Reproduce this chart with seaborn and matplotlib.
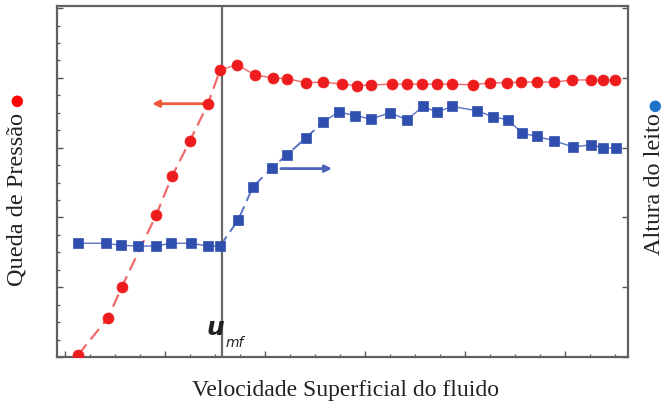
import matplotlib
matplotlib.use("Agg")
import matplotlib.pyplot as plt
import numpy as np
import pandas as pd
import seaborn as sns

# ---- data (arbitrary units) ----
vel_dp = [0.13, 0.43, 0.57, 0.91, 1.07, 1.25, 1.43, 1.55, 1.72, 1.90, 2.08, 2.22,
          2.41, 2.58, 2.77, 2.92, 3.06, 3.27, 3.42, 3.57, 3.72, 3.87, 4.08, 4.25,
          4.42, 4.56, 4.72, 4.89, 5.07, 5.26, 5.38, 5.50]
dp = [0.03, 0.56, 1.01, 2.03, 2.59, 3.10, 3.63, 4.11, 4.19, 4.04, 4.00, 3.99,
      3.93, 3.94, 3.91, 3.89, 3.90, 3.91, 3.91, 3.91, 3.91, 3.91, 3.90, 3.93,
      3.93, 3.94, 3.94, 3.94, 3.97, 3.97, 3.97, 3.97]
vel_h = [0.13, 0.41, 0.56, 0.73, 0.91, 1.06, 1.26, 1.43, 1.55, 1.73, 1.88, 2.07,
         2.22, 2.41, 2.58, 2.74, 2.90, 3.06, 3.25, 3.42, 3.58, 3.72, 3.87, 4.12,
         4.28, 4.43, 4.57, 4.72, 4.89, 5.08, 5.26, 5.38, 5.51]
h = [1.63, 1.63, 1.60, 1.59, 1.59, 1.63, 1.63, 1.59, 1.59, 1.96, 2.44, 2.71,
     2.90, 3.14, 3.37, 3.51, 3.46, 3.41, 3.50, 3.40, 3.59, 3.51, 3.59, 3.53,
     3.44, 3.40, 3.21, 3.16, 3.10, 3.01, 3.04, 3.00, 2.99]
umf = 1.57

xlabel = "Velocidade Superficial do fluido"
ylabel_left = "Queda de Pressão"
ylabel_right = "Altura do leito"

RED = "#ee1c1c"
RED_LINE = "#f06a6a"
BLUE = "#2f4fae"
BLUE_LINE = "#5a72c4"

sns.set_theme(style="white")
plt.rcParams['font.family'] = ['Liberation Serif', 'DejaVu Sans']

fig = plt.figure(figsize=(6.7, 4.1), dpi=100)
ax = fig.add_axes([57/670, 1-358/410, (628-57)/670, (358-7)/410])

df_dp = pd.DataFrame({"v": vel_dp, "p": dp})
df_h = pd.DataFrame({"v": vel_h, "h": h})

# pressure drop: dashed rise, thin solid plateau
sns.lineplot(data=df_dp.iloc[0:8], x="v", y="p", sort=False, estimator=None,
             ax=ax, color=RED_LINE, lw=1.6, linestyle=(0, (6, 3)))
sns.lineplot(data=df_dp.iloc[7:], x="v", y="p", sort=False, estimator=None,
             ax=ax, color=RED_LINE, lw=1.0)

# bed height: solid flat, dashed rise, solid after
sns.lineplot(data=df_h.iloc[0:9], x="v", y="h", sort=False, estimator=None,
             ax=ax, color=BLUE_LINE, lw=1.0)
sns.lineplot(data=df_h.iloc[8:15], x="v", y="h", sort=False, estimator=None,
             ax=ax, color=BLUE_LINE, lw=1.4, linestyle=(0, (6, 3)))
sns.lineplot(data=df_h.iloc[14:], x="v", y="h", sort=False, estimator=None,
             ax=ax, color=BLUE_LINE, lw=1.0)

sns.scatterplot(data=df_dp, x="v", y="p", ax=ax, color=RED, s=62,
                marker="o", edgecolor=RED, linewidth=0.5, zorder=5)
sns.scatterplot(data=df_h, x="v", y="h", ax=ax, color=BLUE, s=42,
                marker="s", edgecolor=BLUE, linewidth=0.5, zorder=5)

# u_mf line
ax.axvline(umf, color="#6a6a6a", lw=1.6, zorder=3)

# arrows
ax.annotate("", xy=(0.87, 3.63), xytext=(1.40, 3.63),
            arrowprops=dict(arrowstyle="-|>", color="#f05a3c", lw=2.0,
                            mutation_scale=10, shrinkA=0, shrinkB=0))
ax.annotate("", xy=(2.67, 2.70), xytext=(2.16, 2.70),
            arrowprops=dict(arrowstyle="-|>", color="#4a64b8", lw=2.0,
                            mutation_scale=10, shrinkA=0, shrinkB=0))

# u_mf label
ax.text(1.50, 0.43, "u", fontsize=18, fontweight="bold", fontstyle="italic",
        family=["DejaVu Sans"], color="#222222", ha="center", va="center")
ax.text(1.70, 0.22, "mf", fontsize=10, fontstyle="italic",
        family=["DejaVu Sans"], color="#222222", ha="center", va="center")

ax.set_xlim(-0.08, 5.63)
ax.set_ylim(0, 5.03)
ax.set_xlabel("")
ax.set_ylabel("")

ax.set_xticks(np.arange(0, 6, 1))
ax.set_xticks(np.arange(0, 5.6, 0.25), minor=True)
ax.set_yticks(np.arange(0, 6, 1))
ax.set_yticks(np.arange(0, 5.01, 0.25), minor=True)
ax.tick_params(axis="both", which="both", direction="in", labelbottom=False,
               labelleft=False, colors="#555555", bottom=True, left=True)
ax.tick_params(which="major", length=4, width=1.0)
ax.tick_params(which="minor", length=2.5, width=0.9)
ax.tick_params(axis="y", which="major", right=True)

for s in ax.spines.values():
    s.set_color("#606060")
    s.set_linewidth(1.6)

# labels
fig.text(345/670, 1-391/410, xlabel, ha="center", va="center", fontsize=17,
         color="#222222")
fig.text(17/670, 1-199/410, ylabel_left, rotation=90, ha="center",
         va="center", fontsize=17.5, color="#222222")
fig.text(17/670, 1-100/410, "●", rotation=90, ha="center", va="center",
         fontsize=11, color="#ff0000", family=["DejaVu Sans"])
fig.text(655/670, 1-184/410, ylabel_right, rotation=90, ha="center",
         va="center", fontsize=17.5, color="#222222")
fig.text(655/670, 1-105/410, "●", rotation=90, ha="center", va="center",
         fontsize=11, color="#1a73c8", family=["DejaVu Sans"])

fig.savefig("out.png", dpi=100)
